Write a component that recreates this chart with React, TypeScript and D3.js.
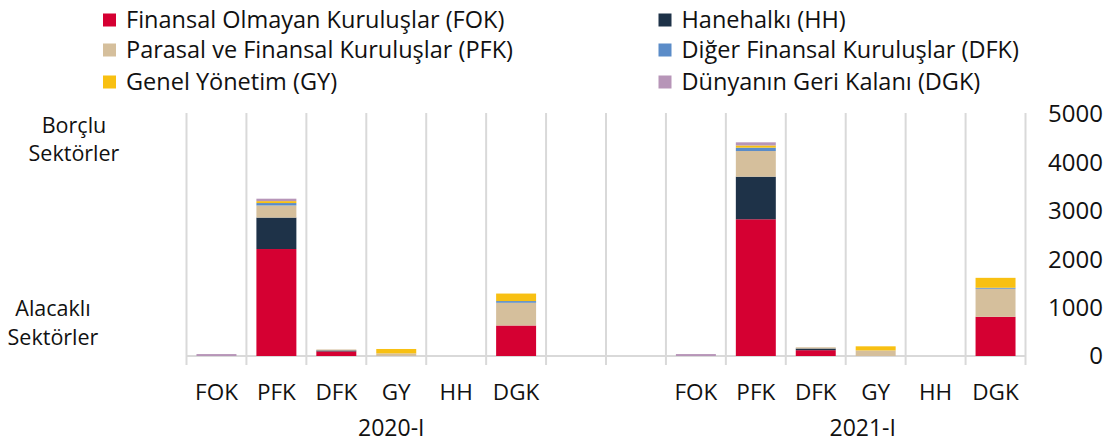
import React from "react";
import * as d3 from "d3";

// borrowing sectors on the x axis, two periods
const periods = ["2020-I", "2021-I"];
const borrowers = ["FOK", "PFK", "DFK", "GY", "HH", "DGK"];

// lending sectors (stack order, bottom to top)
const seriesKeys = ["FOK", "HH", "PFK", "DFK", "GY", "DGK"];
const seriesNames = [
  "Finansal Olmayan Kuruluşlar (FOK)",
  "Hanehalkı (HH)",
  "Parasal ve Finansal Kuruluşlar (PFK)",
  "Diğer Finansal Kuruluşlar (DFK)",
  "Genel Yönetim (GY)",
  "Dünyanın Geri Kalanı (DGK)",
];
const seriesColors = ["#d50032", "#1e3248", "#d5bf9c", "#5b8cc8", "#f8c012", "#b795b8"];

// values per borrower [FOK, PFK, DFK, GY, HH, DGK]
const fok2020 = [0, 2210, 95, 0, 0, 630];
const fok2021 = [0, 2825, 120, 0, 0, 810];
const hh2020 = [0, 650, 20, 0, 0, 0];
const hh2021 = [0, 880, 35, 0, 0, 0];
const pfk2020 = [0, 250, 20, 55, 0, 470];
const pfk2021 = [0, 530, 25, 115, 0, 580];
const dfk2020 = [0, 50, 0, 0, 0, 35];
const dfk2021 = [0, 70, 0, 0, 0, 20];
const gy2020 = [0, 40, 0, 90, 0, 155];
const gy2021 = [0, 45, 0, 85, 0, 205];
const dgk2020 = [40, 50, 0, 0, 0, 0];
const dgk2021 = [40, 65, 0, 0, 0, 0];

const yTicks = [0, 1000, 2000, 3000, 4000, 5000];

const byPeriod: Record<string, number[][]> = {
  "2020-I": [fok2020, hh2020, pfk2020, dfk2020, gy2020, dgk2020],
  "2021-I": [fok2021, hh2021, pfk2021, dfk2021, gy2021, dgk2021],
};

const FONT = "'Open Sans', 'Noto Sans', sans-serif";

export default function App() {
  const width = 1113;
  const height = 443;

  // slots: 6 per period plus two empty slots between them
  const slots: string[] = [
    ...borrowers.map((b) => `${periods[0]}|${b}`),
    "gap1",
    "gap2",
    ...borrowers.map((b) => `${periods[1]}|${b}`),
  ];

  const x = d3.scaleBand().domain(slots).range([186.5, 1025.5]).paddingInner(0).paddingOuter(0);
  const step = x.step();
  const barW = step * 0.667;
  const y = d3.scaleLinear().domain([0, 5000]).range([356, 114]);

  const rows = periods.flatMap((p) =>
    borrowers.map((b, i) => {
      const row: any = { slot: `${p}|${b}` };
      seriesKeys.forEach((k, s) => (row[k] = byPeriod[p][s][i]));
      return row;
    })
  );
  const stacked = d3.stack().keys(seriesKeys)(rows);

  const boundaries = d3.range(slots.length + 1).map((i) => 186.5 + i * step);

  const legendCols = [103, 658.5];
  const legendRows = [20, 50, 82];

  return (
    <svg
      width={width}
      height={height}
      style={{ position: "absolute", left: 0, top: 0, background: "#fff" }}
      fontFamily={FONT}
    >
      {/* legend */}
      {seriesKeys.map((k, i) => {
        const col = i % 2;
        const row = Math.floor(i / 2);
        return (
          <g key={k} transform={`translate(${legendCols[col]},${legendRows[row]})`}>
            <rect x={0} y={-6.5} width={13} height={13} fill={seriesColors[i]} />
            <text x={23} y={0} dy="0.35em" fontSize={23.5} fill="#111">
              {seriesNames[i]}
            </text>
          </g>
        );
      })}

      {/* vertical separators */}
      {boundaries.map((bx, i) => (
        <line key={i} x1={bx} x2={bx} y1={113} y2={365} stroke="#d9d9d9" strokeWidth={2} />
      ))}
      <line x1={186.5} x2={1025.5} y1={y(0)} y2={y(0)} stroke="#d9d9d9" strokeWidth={2} />

      {/* bars */}
      {stacked.map((layer, s) => (
        <g key={layer.key} fill={seriesColors[s]}>
          {layer.map((d: any, j) => {
            const h = y(d[0]) - y(d[1]);
            if (h <= 0) return null;
            return (
              <rect
                key={j}
                x={(x(d.data.slot) as number) + (step - barW) / 2}
                y={y(d[1])}
                width={barW}
                height={h}
              />
            );
          })}
        </g>
      ))}

      {/* y axis on the right */}
      {yTicks.map((t) => (
        <text key={t} x={1103} y={y(t)} dy="0.35em" textAnchor="end" fontSize={24} fill="#111">
          {t}
        </text>
      ))}

      {/* category labels */}
      {periods.flatMap((p) =>
        borrowers.map((b) => (
          <text
            key={`${p}${b}`}
            x={(x(`${p}|${b}`) as number) + step / 2}
            y={392}
            dy="0.35em"
            textAnchor="middle"
            fontSize={22.5}
            fill="#111"
          >
            {b}
          </text>
        ))
      )}
      {periods.map((p, i) => (
        <text
          key={p}
          x={(x(`${p}|GY`) as number) + (i === 0 ? 25 : 17)}
          y={428}
          dy="0.35em"
          textAnchor="middle"
          fontSize={23}
          fill="#111"
        >
          {p}
        </text>
      ))}

      {/* side labels */}
      <text x={74} y={125} dy="0.35em" textAnchor="middle" fontSize={21.5} fill="#111">Borçlu</text>
      <text x={74} y={153} dy="0.35em" textAnchor="middle" fontSize={21.5} fill="#111">Sektörler</text>
      <text x={53} y={308} dy="0.35em" textAnchor="middle" fontSize={21.5} fill="#111">Alacaklı</text>
      <text x={53} y={337} dy="0.35em" textAnchor="middle" fontSize={21.5} fill="#111">Sektörler</text>
    </svg>
  );
}
